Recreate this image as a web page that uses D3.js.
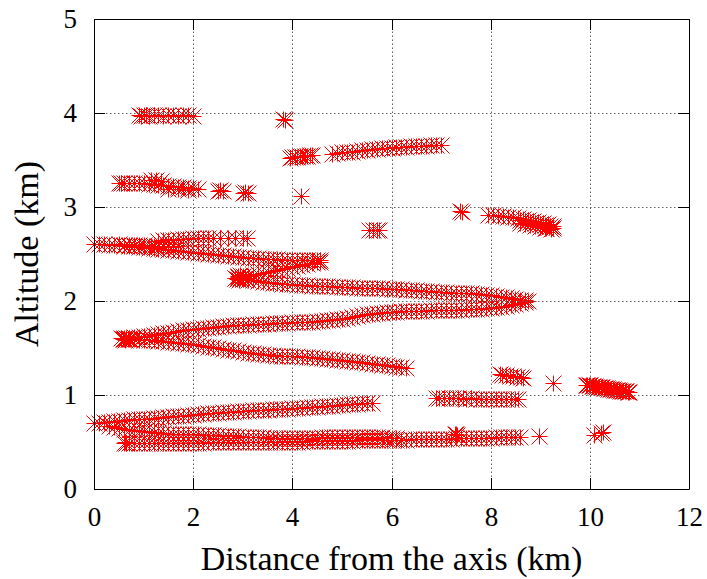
<!DOCTYPE html>
<html>
<head>
<meta charset="utf-8">
<script src="https://cdn.jsdelivr.net/npm/d3@7"></script>
</head>
<body style="margin:0;background:#ffffff">
<svg id="chart" width="707" height="579" font-family="Liberation Serif, Times New Roman, serif" style="display:block;background:#ffffff"></svg>
<script>
// Axis ticks and titles
const xTicks = [0, 2, 4, 6, 8, 10, 12];
const yTicks = [0, 1, 2, 3, 4, 5];
const xTitle = "Distance from the axis (km)";
const yTitle = "Altitude (km)";

// Observed positions [distance km, altitude km], grouped by track
const track40 = [[0.90,3.98],[0.95,3.97],[1.00,3.98],[1.05,3.98],[1.10,3.97],[1.20,3.98],[1.30,3.98],[1.40,3.97],[1.50,3.98],[1.60,3.98],[1.70,3.97],[1.80,3.98],[1.90,3.98],[2.00,3.97]];

const isolated = [[3.82,3.94],[3.86,3.93],[4.17,3.12],[7.38,2.96],[7.42,2.95],[9.25,1.13],[8.98,0.56],[10.08,0.57],[10.22,0.60],[10.27,0.61]];

const track35 = [[3.95,3.52],[4.00,3.53],[4.05,3.53],[4.10,3.53],[4.15,3.54],[4.20,3.54],[4.25,3.54],[4.30,3.54],[4.35,3.55],[4.40,3.55]];

const track36 = [[4.80,3.56],[4.90,3.57],[5.00,3.58],[5.10,3.59],[5.20,3.59],[5.30,3.60],[5.40,3.61],[5.50,3.61],[5.60,3.62],[5.70,3.62],[5.80,3.63],[5.90,3.63],[6.00,3.63],[6.10,3.64],[6.20,3.64],[6.30,3.64],[6.40,3.65],[6.50,3.65],[6.60,3.65],[6.70,3.65],[6.80,3.66],[6.90,3.66],[7.00,3.66]];

const track32 = [[0.50,3.26],[0.55,3.26],[0.60,3.26],[0.70,3.26],[0.80,3.25],[0.90,3.25],[1.00,3.25],[1.10,3.24],[1.15,3.29],[1.20,3.24],[1.25,3.29],[1.30,3.23],[1.35,3.28],[1.40,3.23],[1.50,3.22],[1.50,3.19],[1.60,3.22],[1.70,3.21],[1.70,3.19],[1.80,3.21],[1.90,3.20],[1.90,3.18],[2.00,3.20],[2.10,3.19],
  [2.50,3.17],[2.55,3.18],[2.60,3.17],[3.00,3.15],[3.05,3.16],[3.10,3.15]];

const track26 = [[0.00,2.61],[0.10,2.61],[0.20,2.61],[0.30,2.60],[0.40,2.60],[0.50,2.61],[0.60,2.60],[0.70,2.60],[0.80,2.60],[0.90,2.60],[1.00,2.60],[1.10,2.59],[1.20,2.59],[1.30,2.59],[1.40,2.59],[1.50,2.59],[1.60,2.59],[1.70,2.59]];

const track27 = [[1.30,2.64],[1.40,2.65],[1.50,2.65],[1.60,2.65],[1.70,2.66],[1.80,2.66],[1.90,2.66],[2.00,2.67],[2.10,2.67],[2.20,2.67],[2.30,2.67],[2.40,2.67],[2.55,2.67],[2.70,2.67],[2.85,2.67],[3.00,2.67],[3.08,2.67]];

const track24 = [[0.60,2.59],[0.70,2.58],[0.80,2.58],[0.90,2.57],[1.00,2.57],[1.10,2.56],[1.20,2.56],[1.30,2.55],[1.40,2.55],[1.50,2.54],[1.60,2.54],[1.70,2.53],[1.80,2.53],[1.90,2.52],[2.00,2.52],[2.10,2.51],[2.20,2.51],[2.30,2.50],[2.40,2.50],[2.50,2.49],[2.60,2.49],[2.70,2.48],[2.80,2.48],[2.90,2.47],[3.00,2.47],[3.10,2.46],[3.20,2.46],[3.30,2.46],[3.40,2.45],[3.50,2.45],[3.60,2.45],[3.70,2.45],[3.80,2.44],[3.90,2.44],[4.00,2.44],[4.10,2.44],[4.20,2.44],[4.30,2.44],[4.40,2.44],[4.50,2.44],[4.55,2.44]];

const track23 = [[4.55,2.42],[4.50,2.41],[4.40,2.40],[4.30,2.39],[4.20,2.38],[4.10,2.37],[4.00,2.36],[3.90,2.35],[3.80,2.34],[3.70,2.33],[3.60,2.32],[3.50,2.31],[3.40,2.30],[3.30,2.29],[3.20,2.28],[3.10,2.27],[3.00,2.27],[2.90,2.26],[2.85,2.25],[2.85,2.24],[2.88,2.23],[2.90,2.27],[2.92,2.22],[2.95,2.24],[2.95,2.28],[3.00,2.23],[3.05,2.25]];

const track21 = [[3.00,2.23],[3.10,2.22],[3.20,2.22],[3.30,2.21],[3.40,2.20],[3.50,2.20],[3.60,2.19],[3.70,2.19],[3.80,2.18],[3.90,2.18],[4.00,2.18],[4.10,2.17],[4.20,2.17],[4.30,2.17],[4.40,2.16],[4.50,2.16],[4.60,2.16],[4.70,2.16],[4.80,2.16],[4.90,2.15],[5.00,2.15],[5.10,2.15],[5.20,2.15],[5.30,2.14],[5.40,2.14],[5.50,2.14],[5.60,2.14],[5.70,2.14],[5.80,2.14],[5.90,2.13],[6.00,2.13],[6.10,2.13],[6.20,2.13],[6.30,2.12],[6.40,2.12],[6.50,2.12],[6.60,2.11],[6.70,2.11],[6.80,2.11],[6.90,2.10],[7.00,2.10],[7.10,2.10],[7.20,2.09],[7.30,2.09],[7.40,2.09],[7.50,2.08],[7.60,2.08],[7.70,2.07],[7.80,2.07],[7.90,2.06],[8.00,2.06],[8.10,2.05],[8.20,2.04],[8.30,2.04],[8.40,2.03],[8.50,2.02],[8.60,2.01],[8.70,2.01],[8.75,2.00]];

const track19 = [[8.70,1.99],[8.60,1.98],[8.50,1.97],[8.40,1.96],[8.30,1.95],[8.20,1.94],[8.10,1.94],[8.00,1.93],[7.90,1.93],[7.80,1.92],[7.70,1.92],[7.60,1.91],[7.50,1.91],[7.40,1.90],[7.30,1.90],[7.20,1.90],[7.10,1.90],[7.00,1.90],[6.90,1.90],[6.80,1.90],[6.70,1.89],[6.60,1.89],[6.50,1.89],[6.40,1.89],[6.30,1.89],[6.20,1.89],[6.10,1.88],[6.00,1.88],[5.90,1.88],[5.80,1.87],[5.70,1.87],[5.60,1.86],[5.50,1.86],[5.40,1.85],[5.30,1.84],[5.20,1.83],[5.10,1.82],[5.00,1.81],[4.90,1.81],[4.80,1.80],[4.70,1.80],[4.60,1.79],[4.50,1.79],[4.40,1.78],[4.30,1.78],[4.20,1.78],[4.10,1.78],[4.00,1.78],[3.90,1.77],[3.80,1.77],[3.70,1.77],[3.60,1.77],[3.50,1.76],[3.40,1.76],[3.30,1.76],[3.20,1.76],[3.10,1.75],[3.00,1.75],[2.90,1.74],[2.80,1.74],[2.70,1.73],[2.60,1.73],[2.50,1.72],[2.40,1.72],[2.30,1.71],[2.20,1.71],[2.10,1.70],[2.00,1.70],[1.90,1.69],[1.80,1.69],[1.70,1.68],[1.60,1.67],[1.50,1.66],[1.40,1.66],[1.30,1.65],[1.20,1.64],[1.10,1.63],[1.00,1.63],[0.90,1.62],[0.80,1.62],[0.70,1.61],[0.60,1.61],
  [0.55,1.61],[0.58,1.60],[0.60,1.60],[0.62,1.59],[0.65,1.61],[0.68,1.60],[0.72,1.60]];

const track14 = [[0.70,1.60],[0.80,1.60],[0.90,1.59],[1.00,1.59],[1.10,1.58],[1.20,1.58],[1.30,1.57],[1.40,1.57],[1.50,1.56],[1.60,1.56],[1.70,1.55],[1.80,1.55],[1.90,1.54],[2.00,1.54],[2.10,1.53],[2.20,1.52],[2.30,1.51],[2.40,1.51],[2.50,1.50],[2.60,1.49],[2.70,1.48],[2.80,1.48],[2.90,1.47],[3.00,1.46],[3.10,1.45],[3.20,1.45],[3.30,1.44],[3.40,1.44],[3.50,1.43],[3.60,1.43],[3.70,1.42],[3.80,1.42],[3.90,1.41],[4.00,1.41],[4.10,1.41],[4.20,1.40],[4.30,1.40],[4.40,1.40],[4.50,1.39],[4.60,1.39],[4.70,1.38],[4.80,1.38],[4.90,1.37],[5.00,1.37],[5.10,1.36],[5.20,1.36],[5.30,1.35],[5.40,1.35],[5.50,1.34],[5.60,1.33],[5.70,1.33],[5.80,1.32],[5.90,1.32],[6.00,1.31],[6.10,1.30],[6.20,1.30],[6.30,1.29]];

const track28 = [[7.95,2.91],[8.05,2.91],[8.15,2.90],[8.25,2.90],[8.35,2.89],[8.45,2.89],[8.55,2.88],[8.60,2.86],[8.65,2.87],[8.70,2.85],[8.75,2.86],[8.80,2.84],[8.85,2.85],[8.90,2.83],[8.95,2.84],[9.00,2.82],[9.05,2.83],[9.10,2.81],[9.12,2.78],[9.15,2.82],[9.18,2.79],[9.20,2.80],[9.22,2.77],[9.25,2.80],[9.25,2.78],
  [8.60,2.83],[8.70,2.82],[8.80,2.81],[8.90,2.80],[9.00,2.79],[9.10,2.78]];

const track275 = [[5.55,2.75],[5.62,2.75],[5.70,2.75],[5.75,2.76]];

const track12 = [[8.18,1.22],[8.22,1.21],[8.30,1.21],[8.38,1.20],[8.46,1.20],[8.54,1.19],[8.62,1.19],[8.66,1.18]];

const track11 = [[9.92,1.11],[9.95,1.11],[9.98,1.11],[10.01,1.11],[10.04,1.10],[10.07,1.10],[10.10,1.10],[10.13,1.09],[10.16,1.09],[10.19,1.08],[10.22,1.08],[10.25,1.08],[10.28,1.07],[10.31,1.07],[10.34,1.07],[10.37,1.06],[10.40,1.06],[10.43,1.06],[10.46,1.06],[10.49,1.05],[10.52,1.05],[10.55,1.05],[10.58,1.05],[10.61,1.04],[10.64,1.04],[10.67,1.04],[10.70,1.04],[10.73,1.04],[10.76,1.03],[10.79,1.03]];

const track097 = [[6.90,0.97],[6.95,0.97],[7.05,0.97],[7.15,0.97],[7.25,0.97],[7.35,0.97],[7.45,0.97],[7.50,0.96],[7.60,0.97],[7.70,0.96],[7.80,0.96],[7.90,0.96],[8.00,0.96],[8.10,0.96],[8.20,0.96],[8.30,0.96],[8.40,0.96],[8.50,0.96],[8.55,0.96]];

const track08 = [[0.00,0.70],[0.10,0.70],[0.20,0.71],[0.30,0.71],[0.40,0.72],[0.50,0.72],[0.60,0.73],[0.70,0.73],[0.80,0.74],[0.90,0.74],[1.00,0.75],[1.10,0.75],[1.20,0.76],[1.30,0.76],[1.40,0.77],[1.50,0.77],[1.60,0.78],[1.70,0.78],[1.80,0.78],[1.90,0.79],[2.00,0.79],[2.10,0.80],[2.20,0.80],[2.30,0.81],[2.40,0.81],[2.50,0.81],[2.60,0.82],[2.70,0.82],[2.80,0.82],[2.90,0.83],[3.00,0.83],[3.10,0.83],[3.20,0.84],[3.30,0.84],[3.40,0.84],[3.50,0.84],[3.60,0.85],[3.70,0.85],[3.80,0.85],[3.90,0.85],[4.00,0.86],[4.10,0.86],[4.20,0.86],[4.30,0.87],[4.40,0.87],[4.50,0.87],[4.60,0.88],[4.70,0.88],[4.80,0.88],[4.90,0.89],[5.00,0.89],[5.10,0.90],[5.20,0.90],[5.30,0.90],[5.40,0.91],[5.50,0.91],[5.60,0.91]];

const track06 = [[0.30,0.67],[0.40,0.66],[0.50,0.65],[0.60,0.64],[0.70,0.63],[0.80,0.63],[0.90,0.62],[1.00,0.62],[1.10,0.61],[1.20,0.61],[1.30,0.60],[1.40,0.60],[1.50,0.59],[1.60,0.59],[1.70,0.59],[1.80,0.58],[1.90,0.58],[2.00,0.58],[2.10,0.58],[2.20,0.57],[2.30,0.57],[2.40,0.57],[2.50,0.57],[2.60,0.56],[2.70,0.56],[2.80,0.56],[2.90,0.56],[3.00,0.55],[3.10,0.55],[3.20,0.55],[3.30,0.55],[3.40,0.55],[3.50,0.54],[3.60,0.54],[3.70,0.54],[3.80,0.54],[3.90,0.54],[4.00,0.54],[4.10,0.54],[4.20,0.54],[4.30,0.54],[4.40,0.54],[4.50,0.54],[4.60,0.55],[4.70,0.55],[4.80,0.55],[4.90,0.55],[5.00,0.55],[5.10,0.55],[5.20,0.55],[5.30,0.55],[5.40,0.55],[5.50,0.55],[5.60,0.55],[5.70,0.55],[5.80,0.55],[5.90,0.54],[6.00,0.54],[6.10,0.54],
  [7.28,0.58],[7.30,0.59],[7.32,0.57]];

const track05 = [[0.60,0.49],[0.62,0.50],[0.65,0.49],[0.70,0.49],[0.80,0.49],[0.90,0.49],[1.00,0.49],[1.10,0.49],[1.20,0.49],[1.30,0.49],[1.40,0.49],[1.50,0.49],[1.60,0.49],[1.70,0.49],[1.80,0.49],[1.90,0.49],[2.00,0.49],[2.10,0.49],[2.20,0.49],[2.30,0.50],[2.40,0.50],[2.50,0.50],[2.60,0.50],[2.70,0.50],[2.80,0.50],[2.90,0.50],[3.00,0.50],[3.10,0.50],[3.20,0.50],[3.30,0.50],[3.40,0.50],[3.50,0.50],[3.60,0.50],[3.70,0.50],[3.80,0.50],[3.90,0.50],[4.00,0.50],[4.10,0.50],[4.20,0.50],[4.30,0.51],[4.40,0.51],[4.50,0.51],[4.60,0.51],[4.70,0.51],[4.80,0.51],[4.90,0.51],[5.00,0.51],[5.10,0.51],[5.20,0.51],[5.30,0.52],[5.40,0.52],[5.50,0.52],[5.60,0.52],[5.70,0.52],[5.80,0.52],[5.90,0.52],[6.00,0.52],[6.10,0.52],[6.20,0.52],[6.30,0.52],[6.40,0.53],[6.50,0.53],[6.60,0.53],[6.70,0.53],[6.80,0.53],[6.90,0.53],[7.00,0.53],[7.10,0.53],[7.20,0.53],[7.30,0.54],[7.40,0.54],[7.50,0.54],[7.60,0.54],[7.70,0.54],[7.80,0.54],[7.90,0.54],[8.00,0.54],[8.10,0.55],[8.20,0.55],[8.30,0.55],[8.40,0.55],[8.50,0.55],[8.60,0.55]];

const tracks = [track40, isolated, track35, track36, track32, track26, track27, track24, track23,
  track21, track19, track14, track28, track275, track12, track11, track097, track08, track06, track05];

const FONT = "Liberation Serif, Times New Roman, serif";

const svg = d3.select("#chart");
const x = d3.scaleLinear().domain([0, 12]).rangeRound([94, 689]);
const y = d3.scaleLinear().domain([0, 5]).rangeRound([489, 19]);
const [x0, x1] = x.range();
const [y0, y1] = y.range();

// Asterisk markers: a plus combined with a cross
const R = 8;
const star = `M${-R},0H${R}M0,${-R}V${R}M${-R},${-R}L${R},${R}M${-R},${R}L${R},${-R}`;

svg.append("g")
  .selectAll("path")
  .data(tracks.flat())
  .join("path")
  .attr("fill", "none")
  .attr("stroke", "red")
  .attr("stroke-width", 1)
  .attr("transform", d => `translate(${x(d[0]) + 0.5},${y(d[1]) + 0.5})`)
  .attr("d", star);

// Dotted grid in front of the markers
const grid = svg.append("g")
  .attr("stroke", "#606060")
  .attr("stroke-width", 1)
  .attr("stroke-dasharray", "1.5,2.5");
grid.selectAll("line.gx")
  .data(xTicks.filter(t => t > 0 && t < 12))
  .join("line")
  .attr("class", "gx")
  .attr("x1", d => x(d) + 0.5).attr("x2", d => x(d) + 0.5)
  .attr("y1", y0).attr("y2", y1);
grid.selectAll("line.gy")
  .data(yTicks.filter(t => t > 0 && t < 5))
  .join("line")
  .attr("class", "gy")
  .attr("y1", d => y(d) + 0.5).attr("y2", d => y(d) + 0.5)
  .attr("x1", x0).attr("x2", x1);

// Axes with inward ticks, mirrored on top and right
const TICK = 11;
const fmt = d3.format("d");
const styleAxis = g => {
  g.attr("font-family", FONT).attr("font-size", 27);
  g.selectAll("path.domain").attr("stroke", "#000");
  g.selectAll(".tick line").attr("stroke", "#000");
  g.selectAll("text").attr("fill", "#000").attr("font-family", FONT);
};

svg.append("g").attr("transform", `translate(0,${y0})`)
  .call(d3.axisBottom(x).tickValues(xTicks).tickFormat(fmt).tickSize(-TICK).tickSizeOuter(0).tickPadding(18))
  .call(styleAxis);
svg.append("g").attr("transform", `translate(0,${y1})`)
  .call(d3.axisTop(x).tickValues(xTicks).tickSize(-TICK).tickSizeOuter(0).tickFormat(""))
  .call(styleAxis);
svg.append("g").attr("transform", `translate(${x0},0)`)
  .call(d3.axisLeft(y).tickValues(yTicks).tickFormat(fmt).tickSize(-TICK).tickSizeOuter(0).tickPadding(17))
  .call(styleAxis);
svg.append("g").attr("transform", `translate(${x1},0)`)
  .call(d3.axisRight(y).tickValues(yTicks).tickSize(-TICK).tickSizeOuter(0).tickFormat(""))
  .call(styleAxis);

// Axis titles
svg.append("text")
  .attr("x", (x0 + x1) / 2).attr("y", 570)
  .attr("text-anchor", "middle")
  .attr("font-family", FONT).attr("font-size", 34)
  .text(xTitle);
svg.append("text")
  .attr("transform", `translate(38,${(y0 + y1) / 2}) rotate(-90)`)
  .attr("text-anchor", "middle")
  .attr("font-family", FONT).attr("font-size", 34)
  .text(yTitle);
</script>
</body>
</html>
